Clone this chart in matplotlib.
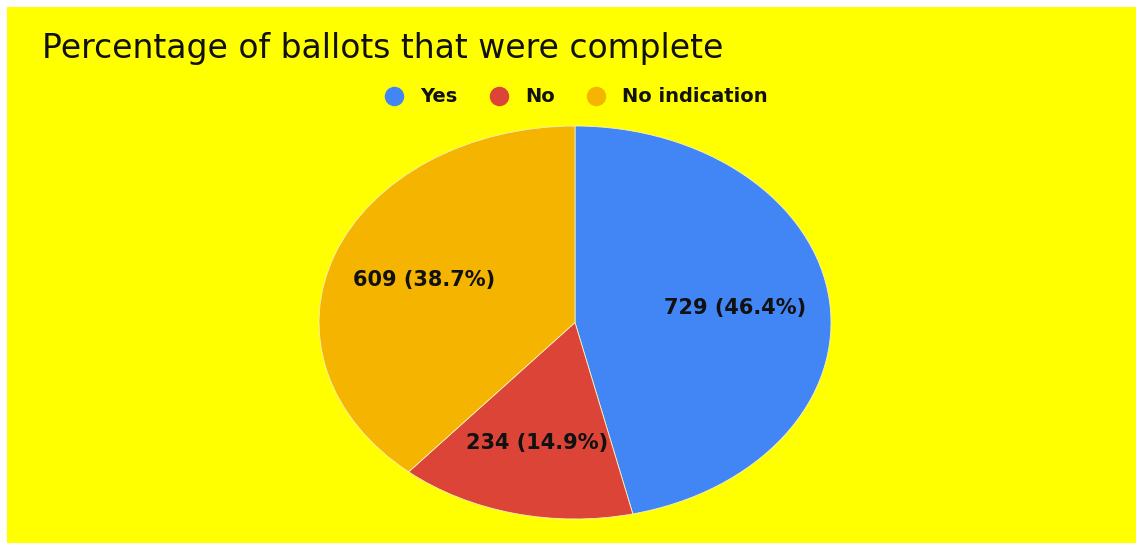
import matplotlib
matplotlib.use("Agg")
import matplotlib.pyplot as plt
from matplotlib.patches import Rectangle
from matplotlib.lines import Line2D

title = "Percentage of ballots that were complete"
categories = ["Yes", "No", "No indication"]
counts = [729, 234, 609]
colors = ["#4285F4", "#DB4437", "#F4B400"]

W, H = 1136, 543
fig = plt.figure(figsize=(W / 100, H / 100), dpi=100, facecolor="white")
plt.rcParams["font.family"] = ["DejaVu Sans"]

# yellow background panel
fig.patches.append(Rectangle((7 / W, 0), 1 - 7 / W, 1 - 7 / H, transform=fig.transFigure,
                             facecolor="#FFFF00", edgecolor="none", zorder=-10))

# pie axes (stretched ellipse)
left, right, top, bottom = 319, 831, 126, 519
ax = fig.add_axes([left / W, 1 - bottom / H, (right - left) / W, (bottom - top) / H])
ax.set_zorder(5)
ax.set_facecolor("none")
total = sum(counts)


def fmt(pct):
    v = int(round(pct * total / 100.0))
    return f"{v} ({pct:.1f}%)"


wedges, texts, autotexts = ax.pie(
    counts, colors=colors, startangle=90, counterclock=False,
    autopct=fmt, pctdistance=0.63,
    wedgeprops=dict(edgecolor="#f6f0c0", linewidth=0.6),
    textprops=dict(fontsize=15, fontweight="bold", color="#111111"),
)
ax.set_aspect("auto")
ax.set_xlim(-1, 1)
ax.set_ylim(-1, 1)
ax.axis("off")

# title
fig.text(42 / W, 1 - 58 / H, title, fontsize=23.8, color="#111111",
         ha="left", va="baseline", zorder=6)

# legend
handles = [Line2D([0], [0], marker="o", linestyle="none", markersize=13,
                  markerfacecolor=c, markeredgecolor=c) for c in colors]
leg = fig.legend(handles, categories, loc="center", ncol=3, frameon=False,
                 bbox_to_anchor=(576 / W, 1 - 97 / H),
                 prop=dict(size=14, weight="bold"),
                 handlelength=1.0, handletextpad=0.84, columnspacing=1.65)
leg.set_zorder(6)
for t in leg.get_texts():
    t.set_color("#111111")

fig.savefig("out.png", dpi=100, facecolor="white")
